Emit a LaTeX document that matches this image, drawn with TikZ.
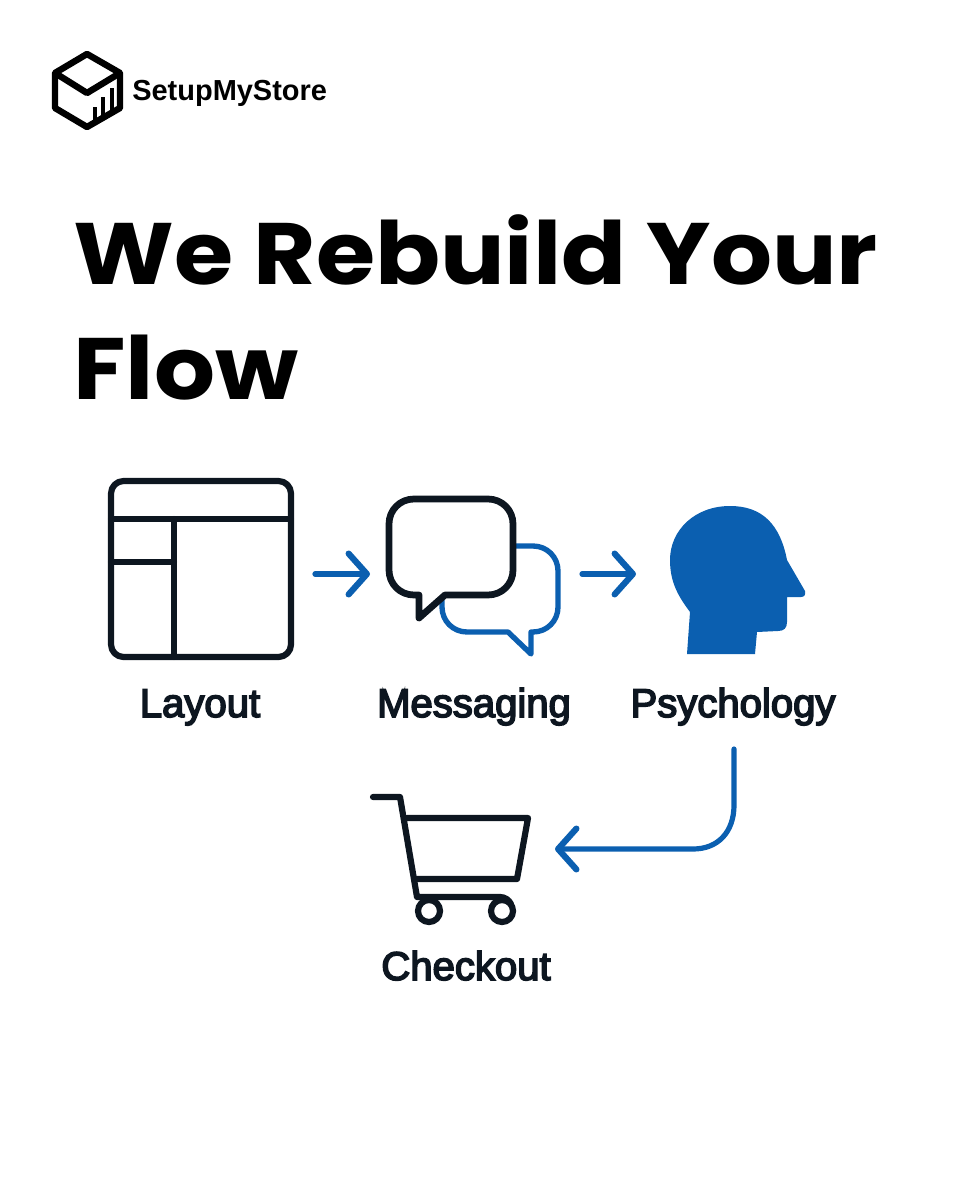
\documentclass[tikz,border=0pt]{standalone}
\usepackage{fontspec}
\usepackage{xcolor}
\usetikzlibrary{arrows.meta}
\newfontfamily\titlefont[FakeStretch=1.1]{Poppins}
\newfontfamily\logofont{Liberation Sans}
\newfontfamily\labelfont[FakeBold=4]{Liberation Sans}
\definecolor{inkdark}{HTML}{0D1620}
\definecolor{flowblue}{HTML}{0B5FB0}
\tikzset{
    icon/.style={draw=inkdark, line width=4.4pt, line join=round, line cap=round},
    bluebubble/.style={draw=flowblue, line width=3.8pt, line join=round, line cap=round},
    flow/.style={draw=flowblue, line width=3.7pt, line cap=round, -{Straight Barb[length=13pt, width=29pt, round, line width=4.4pt]}},
    steplabel/.style={font=\labelfont\fontsize{28.5pt}{30pt}\selectfont, text=inkdark, anchor=base},
    headline/.style={font=\titlefont\bfseries\fontsize{62pt}{66pt}\selectfont, text=black, anchor=base west, inner sep=0pt}
}

\begin{document}
\begin{tikzpicture}[x=0.025cm, y=-0.025cm]
    \useasboundingbox (0,0) rectangle (960,1200);
    % logo
    \draw[line width=4.6pt, line join=round, draw=black] (87,54) -- (120,73) -- (120,108) -- (87,127) -- (55,108) -- (55,73) -- cycle;
    \draw[line width=4.6pt, line join=round, draw=black] (55,73) -- (87,93) -- (120,73);
    \foreach \x/\y/\z in {95/122/107, 103/118/97, 112/113/88}
        \draw[line width=3.2pt, draw=black] (\x,\y) -- (\x,\z);
    \node[anchor=base west, inner sep=0pt, font=\logofont\bfseries\fontsize{20.6pt}{22pt}\selectfont, text=black] (brand) at (132,101) {SetupMyStore};
    % title
    \node[headline] (titleone) at (73,285) {We Rebuild Your};
    \node[headline] (titletwo) at (73,400) {Flow};
    % layout icon
    \node[icon, rounded corners=9pt, minimum width=4.5cm, minimum height=4.4cm, inner sep=0pt] (layout) at (201,569) {};
    \draw[icon] (111,519) -- (291,519);
    \draw[icon] (174,519) -- (174,657);
    \draw[icon] (111,562) -- (174,562);
    % messaging icon
    \draw[bluebubble, fill=white] (508,632) -- (467,632) .. controls (453,632) and (442,621) .. (442,607) -- (442,571) .. controls (442,557) and (453,546) .. (467,546) -- (533,546) .. controls (547,546) and (558,557) .. (558,571) -- (558,607) .. controls (558,621) and (547,632) .. (533,632) -- (531,632) -- (531,654) -- cycle;
    \draw[icon, line width=4.8pt, fill=white] (445,595) -- (488,595) .. controls (502,595) and (513,584) .. (513,570) -- (513,524) .. controls (513,510) and (502,499) .. (488,499) -- (414,499) .. controls (400,499) and (389,510) .. (389,524) -- (389,570) .. controls (389,584) and (400,595) .. (414,595) -- (419,595) -- (419,618) -- cycle;
    % psychology icon
    \fill[flowblue] (687,654) -- (690,612) .. controls (678,596) and (670,582) .. (670,560)
        .. controls (670,530) and (695,506) .. (730,506)
        .. controls (762,506) and (780,524) .. (787,560)
        -- (805,591) .. controls (806,595) and (804,597) .. (801,597)
        -- (787,597) -- (787,622) .. controls (787,628) and (784,631) .. (778,631)
        -- (757,632) -- (755,654) -- cycle;
    % checkout icon
    \draw[icon] (373,797) -- (400,797) -- (417,897) -- (500,897) .. controls (505,897) and (509,900) .. (511,904);
    \draw[icon] (407,818) -- (528,818) -- (517,879) -- (414,879);
    \draw[icon] (429,911) circle (11);
    \draw[icon] (502,911) circle (11);
    % labels
    \node[steplabel] (layoutlabel) at (200,717) {Layout};
    \node[steplabel] (messaginglabel) at (474,717) {Messaging};
    \node[steplabel] (psychlabel) at (733,717) {Psychology};
    \node[steplabel] (checkoutlabel) at (466,980) {Checkout};
    % connectors
    \coordinate (a) at (315,574);
    \coordinate (b) at (370,574);
    \coordinate (c) at (582,574);
    \coordinate (d) at (636,574);
    \coordinate (e) at (734,749);
    \coordinate (f) at (555,849);
    \draw[flow] (a) -- (b);
    \draw[flow] (c) -- (d);
    \draw[flow] (e) -- (734,805) .. controls (734,832) and (718,849) .. (693,849) -- (f);
\end{tikzpicture}
\end{document}
